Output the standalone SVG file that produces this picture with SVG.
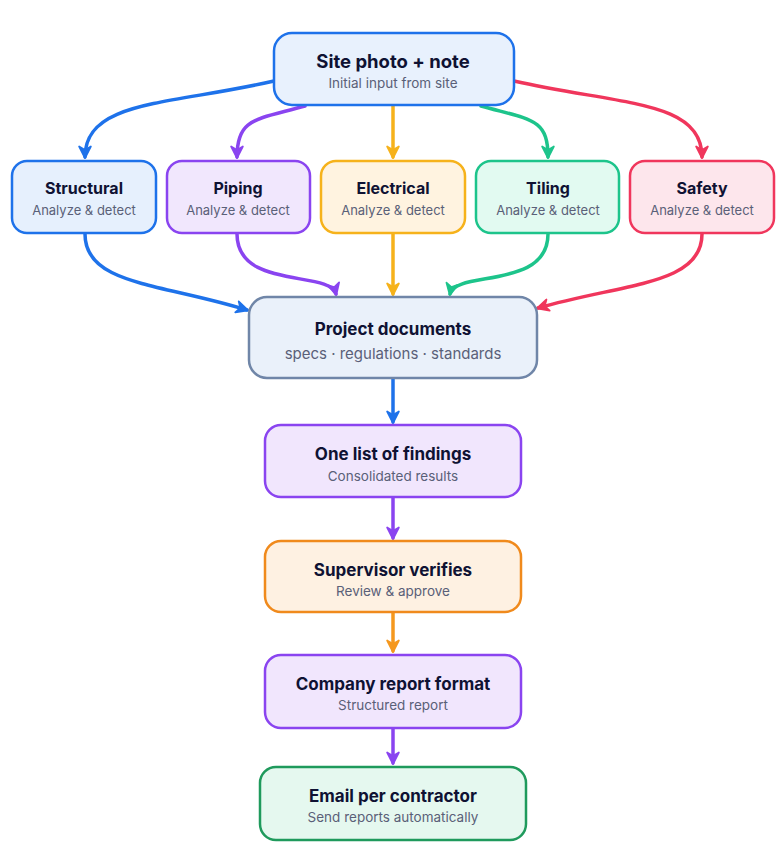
<svg xmlns="http://www.w3.org/2000/svg" width="778" height="860" viewBox="0 0 778 860">
<defs>
<style>
.t{font-family:Inter,"Noto Sans","Liberation Sans",sans-serif;font-weight:700;fill:#0f1233;text-anchor:middle}
.s{font-family:Inter,"Noto Sans","Liberation Sans",sans-serif;font-weight:400;fill:#5a6078;text-anchor:middle}
.n{stroke-width:2.5}
.c{fill:none;stroke-width:3.5;stroke-linecap:round}
</style>
<marker id="mb" viewBox="0 0 12 12" refX="10" refY="6" markerWidth="14" markerHeight="14" markerUnits="userSpaceOnUse" orient="auto"><path d="M1,1 L11,6 L1,11 L4,6 Z" fill="#1e72ea" stroke="#1e72ea" stroke-width="1.5" stroke-linejoin="round"/></marker>
<marker id="mp" viewBox="0 0 12 12" refX="10" refY="6" markerWidth="14" markerHeight="14" markerUnits="userSpaceOnUse" orient="auto"><path d="M1,1 L11,6 L1,11 L4,6 Z" fill="#8a44f0" stroke="#8a44f0" stroke-width="1.5" stroke-linejoin="round"/></marker>
<marker id="my" viewBox="0 0 12 12" refX="10" refY="6" markerWidth="14" markerHeight="14" markerUnits="userSpaceOnUse" orient="auto"><path d="M1,1 L11,6 L1,11 L4,6 Z" fill="#f6b21b" stroke="#f6b21b" stroke-width="1.5" stroke-linejoin="round"/></marker>
<marker id="mg" viewBox="0 0 12 12" refX="10" refY="6" markerWidth="14" markerHeight="14" markerUnits="userSpaceOnUse" orient="auto"><path d="M1,1 L11,6 L1,11 L4,6 Z" fill="#1dc48b" stroke="#1dc48b" stroke-width="1.5" stroke-linejoin="round"/></marker>
<marker id="mr" viewBox="0 0 12 12" refX="10" refY="6" markerWidth="14" markerHeight="14" markerUnits="userSpaceOnUse" orient="auto"><path d="M1,1 L11,6 L1,11 L4,6 Z" fill="#f0365c" stroke="#f0365c" stroke-width="1.5" stroke-linejoin="round"/></marker>
<marker id="mo" viewBox="0 0 12 12" refX="10" refY="6" markerWidth="14" markerHeight="14" markerUnits="userSpaceOnUse" orient="auto"><path d="M1,1 L11,6 L1,11 L4,6 Z" fill="#f5981e" stroke="#f5981e" stroke-width="1.5" stroke-linejoin="round"/></marker>
</defs>
<rect width="778" height="860" fill="#ffffff"/>
<g id="connectors">
<path class="c" d="M274,81 C170,105 85,100 85,157" stroke="#1e72ea" marker-end="url(#mb)"/>
<path class="c" d="M305,106 C255,120 237,118 237,157" stroke="#8a44f0" marker-end="url(#mp)"/>
<path class="c" d="M393,106 L393,157" stroke="#f6b21b" marker-end="url(#my)"/>
<path class="c" d="M481,106 C531,120 548,118 548,157" stroke="#1dc48b" marker-end="url(#mg)"/>
<path class="c" d="M514,81 C620,105 702,100 702,157" stroke="#f0365c" marker-end="url(#mr)"/>
<path class="c" d="M85,234 C85,285 160,283 247,310" stroke="#1e72ea" marker-end="url(#mb)"/>
<path class="c" d="M237,234 C237,290 330,270 336,294" stroke="#8a44f0" marker-end="url(#mp)"/>
<path class="c" d="M393,234 L393,294" stroke="#f6b21b" marker-end="url(#my)"/>
<path class="c" d="M548,234 C548,290 455,270 450,294" stroke="#1dc48b" marker-end="url(#mg)"/>
<path class="c" d="M702,234 C702,285 625,283 538,308" stroke="#f0365c" marker-end="url(#mr)"/>
<path class="c" d="M393,379 L393,422" stroke="#1e72ea" marker-end="url(#mb)"/>
<path class="c" d="M393,498 L393,538" stroke="#8a44f0" marker-end="url(#mp)"/>
<path class="c" d="M393,613 L393,651" stroke="#f5981e" marker-end="url(#mo)"/>
<path class="c" d="M393,729 L393,763" stroke="#8a44f0" marker-end="url(#mp)"/>
</g>
<g id="site">
<rect class="n" x="274" y="33" width="240" height="72" rx="18" fill="#e8f1fd" stroke="#1e72ea"/>
<text class="t" x="393" y="68" font-size="18.5">Site photo + note</text>
<text class="s" x="393" y="88" font-size="13.5">Initial input from site</text>
</g>
<g id="structural">
<rect class="n" x="12" y="161" width="144" height="72" rx="15" fill="#e6f0fd" stroke="#1e72ea"/>
<text class="t" x="84" y="194" font-size="16">Structural</text>
<text class="s" x="84" y="215" font-size="13">Analyze &amp; detect</text>
</g>
<g id="piping">
<rect class="n" x="167" y="161" width="143" height="72" rx="15" fill="#f1e7fd" stroke="#8a44f0"/>
<text class="t" x="238" y="194" font-size="16">Piping</text>
<text class="s" x="238" y="215" font-size="13">Analyze &amp; detect</text>
</g>
<g id="electrical">
<rect class="n" x="321" y="161" width="144" height="72" rx="15" fill="#fff3e0" stroke="#f6b21b"/>
<text class="t" x="393" y="194" font-size="16">Electrical</text>
<text class="s" x="393" y="215" font-size="13">Analyze &amp; detect</text>
</g>
<g id="tiling">
<rect class="n" x="476" y="161" width="143" height="72" rx="15" fill="#e2faf1" stroke="#1dc48b"/>
<text class="t" x="548" y="194" font-size="16">Tiling</text>
<text class="s" x="548" y="215" font-size="13">Analyze &amp; detect</text>
</g>
<g id="safety">
<rect class="n" x="630" y="161" width="144" height="72" rx="15" fill="#fde6ec" stroke="#f0365c"/>
<text class="t" x="702" y="194" font-size="16">Safety</text>
<text class="s" x="702" y="215" font-size="13">Analyze &amp; detect</text>
</g>
<g id="docs">
<rect class="n" x="249" y="297" width="288" height="81" rx="18" fill="#eaf1fa" stroke="#7086a8"/>
<text class="t" x="393" y="335" font-size="17">Project documents</text>
<text class="s" x="393" y="359" font-size="15">specs · regulations · standards</text>
</g>
<g id="findings">
<rect class="n" x="265" y="425" width="256" height="72" rx="16" fill="#f1e6fd" stroke="#8a44f0"/>
<text class="t" x="393" y="460" font-size="17">One list of findings</text>
<text class="s" x="393" y="481" font-size="13.5">Consolidated results</text>
</g>
<g id="supervisor">
<rect class="n" x="265" y="541" width="256" height="71" rx="16" fill="#fef1e2" stroke="#f08a1c"/>
<text class="t" x="393" y="576" font-size="17">Supervisor verifies</text>
<text class="s" x="393" y="596" font-size="13.5">Review &amp; approve</text>
</g>
<g id="report">
<rect class="n" x="265" y="655" width="256" height="73" rx="16" fill="#f1e6fd" stroke="#8a44f0"/>
<text class="t" x="393" y="690" font-size="17">Company report format</text>
<text class="s" x="393" y="710" font-size="13.5">Structured report</text>
</g>
<g id="email">
<rect class="n" x="260" y="767" width="266" height="73" rx="16" fill="#e5f8ef" stroke="#1f9a5c"/>
<text class="t" x="393" y="802" font-size="17">Email per contractor</text>
<text class="s" x="393" y="822" font-size="13.5">Send reports automatically</text>
</g>
</svg>
